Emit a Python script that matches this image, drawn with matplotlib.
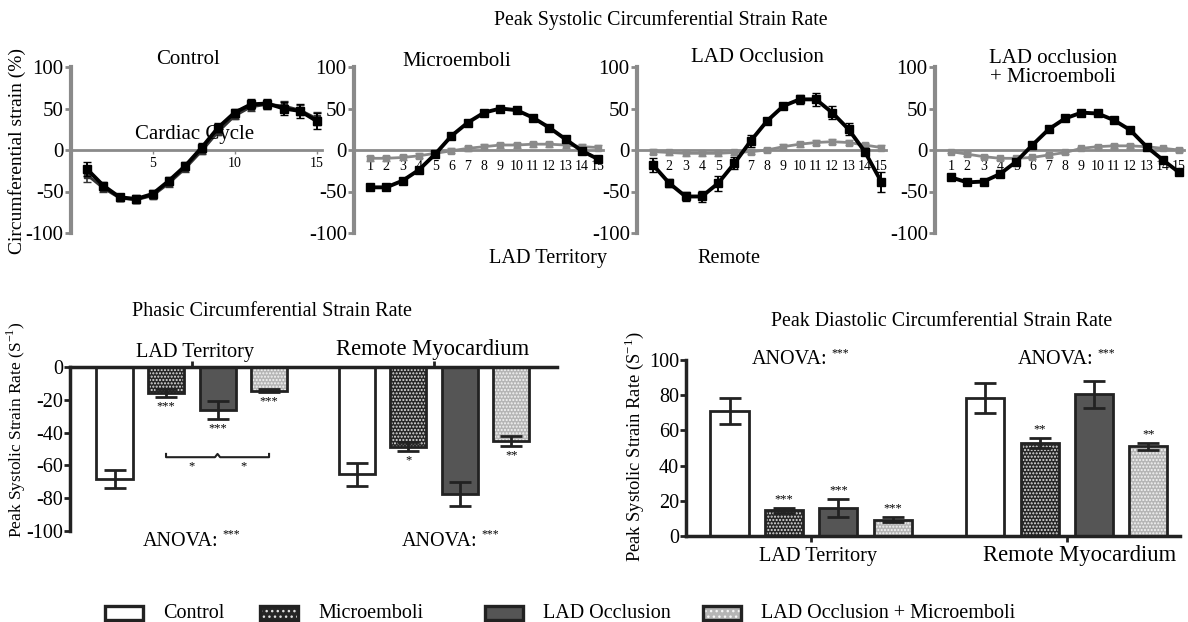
import numpy as np
import matplotlib.pyplot as plt
from matplotlib.patches import Rectangle
from matplotlib.text import Annotation

plt.rcParams['font.family'] = ['Liberation Serif', 'DejaVu Serif']
plt.rcParams['axes.unicode_minus'] = False
plt.rcParams['hatch.linewidth'] = 1.0

W, H = 1188, 622

# =========================================================
# Data: top row, circumferential strain over the cardiac cycle
# =========================================================
cycle = np.arange(1, 16)

control_lad = [-23, -43, -57, -59, -53, -37, -19, 3, 27, 45, 55, 56, 50, 47, 35]
control_lad_err = [8, 5, 4, 5, 5, 5, 5, 5, 5, 5, 6, 6, 8, 8, 10]
control_remote = [-30, -46, -58, -60, -55, -40, -22, -1, 22, 41, 52, 55, 53, 48, 38]
control_remote_err = [8, 5, 4, 4, 4, 4, 4, 4, 4, 4, 5, 5, 6, 6, 8]

micro_lad = [-45, -45, -37, -24, -5, 17, 33, 45, 50, 48, 39, 27, 13, -1, -11]
micro_lad_err = [2, 2, 2, 2, 2, 2, 2, 2, 2, 2, 2, 2, 2, 2, 2]
micro_remote = [-10, -10, -9, -7, -4, -1, 2, 4, 6, 6, 7, 7, 6, 4, 3]
micro_remote_err = [3, 3, 3, 3, 3, 3, 3, 3, 3, 3, 3, 3, 3, 3, 3]

occl_lad = [-18, -40, -56, -56, -40, -16, 11, 35, 53, 61, 61, 45, 25, -2, -38]
occl_lad_err = [8, 5, 5, 7, 9, 7, 7, 4, 3, 5, 8, 8, 7, 4, 12]
occl_remote = [-2, -3, -4, -4, -4, -3, -2, 0, 4, 7, 9, 10, 9, 6, 3]
occl_remote_err = [3, 3, 3, 3, 3, 3, 3, 3, 3, 3, 3, 3, 3, 3, 3]

combo_lad = [-33, -39, -38, -29, -14, 6, 25, 38, 45, 44, 36, 24, 4, -12, -27]
combo_lad_err = [2, 2, 2, 2, 2, 2, 2, 2, 2, 2, 2, 2, 2, 2, 3]
combo_remote = [-2, -5, -8, -10, -10, -9, -6, -3, 2, 4, 5, 5, 4, 2, 0]
combo_remote_err = [2, 2, 2, 2, 2, 2, 2, 2, 2, 2, 2, 2, 2, 2, 2]

panel_titles = ["Control", "Microemboli", "LAD Occlusion", "LAD occlusion\n+ Microemboli"]

# =========================================================
# Data: bottom row, bar charts
# =========================================================
groups = ["Control", "Microemboli", "LAD Occlusion", "LAD Occlusion + Microemboli"]

phasic_lad = [-68, -16, -26, -14.5]
phasic_lad_err = [5.5, 2.5, 5.5, 1.0]
phasic_lad_sig = ["", "***", "***", "***"]
phasic_remote = [-65.5, -48.5, -77.5, -45]
phasic_remote_err = [7, 2.7, 7.5, 3]
phasic_remote_sig = ["", "*", "", "**"]

diast_lad = [71, 14.5, 16, 9.2]
diast_lad_err = [7.3, 1.5, 5.3, 1.5]
diast_lad_sig = ["", "***", "***", "***"]
diast_remote = [78.5, 53, 80.5, 51]
diast_remote_err = [8.5, 2.8, 7.5, 2]
diast_remote_sig = ["", "**", "", "**"]

bar_pos_lad = np.array([1, 2, 3, 4])
bar_pos_remote = np.array([5.7, 6.7, 7.7, 8.7])

# bar styles: facecolor, hatch, hatch colour
bar_styles = [
    ("white", None, None),
    ("#262626", ".....", "#e0e0e0"),
    ("#555555", None, None),
    ("#b5b5b5", ".....", "#f4f4f4"),
]


def px_axes(x0, y_top, x1, y_bot):
    return fig.add_axes([x0 / W, 1 - y_bot / H, (x1 - x0) / W, (y_bot - y_top) / H])


def anova(x_left, y):
    t = fig.text(x_left / W, 1 - y / H, "ANOVA:", ha="left", va="center", fontsize=14.5)
    fig.add_artist(Annotation("***", xy=(1, 0.85), xycoords=t, xytext=(3, 0),
                              textcoords="offset points", ha="left", va="center",
                              fontsize=8.5))


fig = plt.figure(figsize=(W / 100, H / 100), dpi=100)

# =========================================================
# Top row
# =========================================================
top_boxes = [(70.6, 321.5), (353.7, 603), (636.7, 886), (934.7, 1184)]
top_data = [
    (control_lad, control_lad_err, control_remote, control_remote_err),
    (micro_lad, micro_lad_err, micro_remote, micro_remote_err),
    (occl_lad, occl_lad_err, occl_remote, occl_remote_err),
    (combo_lad, combo_lad_err, combo_remote, combo_remote_err),
]

for i, ((x0, x1), (lad, lad_e, rem, rem_e)) in enumerate(zip(top_boxes, top_data)):
    ax = px_axes(x0, 67, x1, 233)
    rem_color = "#333333" if i == 0 else "#8a8a8a"
    ax.errorbar(cycle, rem, yerr=rem_e, color=rem_color, lw=2.0, marker="s", ms=4,
                capsize=3, elinewidth=1.2, zorder=2)
    ax.errorbar(cycle, lad, yerr=lad_e, color="black", lw=2.8, marker="s", ms=5.5,
                capsize=3, elinewidth=1.4, zorder=3)
    ax.set_xlim(0, 15.3)
    ax.set_ylim(-100, 100)
    for s in ["top", "right"]:
        ax.spines[s].set_visible(False)
    ax.spines["left"].set_color("#8a8a8a")
    ax.spines["left"].set_linewidth(3)
    ax.spines["bottom"].set_position(("data", 0))
    ax.spines["bottom"].set_color("#8a8a8a")
    ax.spines["bottom"].set_linewidth(2)
    ax.set_yticks([-100, -50, 0, 50, 100])
    ax.tick_params(axis="y", direction="out", length=4, width=2, color="#8a8a8a",
                   labelsize=15, pad=1)
    if i == 0:
        ax.set_xticks([5, 10, 15])
        ax.tick_params(axis="x", length=3, width=1, color="#8a8a8a", labelsize=10, pad=2)
    else:
        ax.set_xticks(cycle)
        ax.tick_params(axis="x", length=0, labelsize=10, pad=7)
    ax.patch.set_alpha(0)

fig.text(661 / W, 1 - 20 / H, "Peak Systolic Circumferential Strain Rate", ha="center",
         va="center", fontsize=14.3)
fig.text(188 / W, 1 - 60 / H, panel_titles[0], ha="center", va="center", fontsize=15)
fig.text(457 / W, 1 - 61 / H, panel_titles[1], ha="center", va="center", fontsize=15)
fig.text(757 / W, 1 - 58 / H, panel_titles[2], ha="center", va="center", fontsize=15)
fig.text(1053 / W, 1 - 68 / H, panel_titles[3], ha="center", va="center", fontsize=15,
         linespacing=1.05)
fig.text(195 / W, 1 - 135 / H, "Cardiac Cycle", ha="center", va="center", fontsize=15)
fig.text(548 / W, 1 - 258 / H, "LAD Territory", ha="center", va="center", fontsize=14.6)
fig.text(729 / W, 1 - 258 / H, "Remote", ha="center", va="center", fontsize=14.6)
fig.text(17 / W, 1 - 151 / H, "Circumferential strain (%)", ha="center", va="center",
         rotation=90, fontsize=14)


def draw_bars(ax, pos, vals, errs):
    for p, v, e, (fc, hatch, hc) in zip(pos, vals, errs, bar_styles):
        if hatch:
            ax.bar(p, v, width=0.7, color=fc, edgecolor=hc, hatch=hatch, lw=0, zorder=2)
        else:
            ax.bar(p, v, width=0.7, color=fc, lw=0, zorder=2)
        ax.bar(p, v, width=0.7, fill=False, edgecolor="#222222", lw=2, zorder=3)
        ax.errorbar(p, v, yerr=e, color="#222222", lw=0, elinewidth=2, capsize=8,
                    capthick=2, zorder=4)


# =========================================================
# Bottom left: phasic
# =========================================================
ax = px_axes(70, 367, 557, 531)
draw_bars(ax, bar_pos_lad, phasic_lad, phasic_lad_err)
draw_bars(ax, bar_pos_remote, phasic_remote, phasic_remote_err)
ax.set_xlim(0.136, 9.59)
ax.set_ylim(-100, 0)
for s in ["bottom", "right"]:
    ax.spines[s].set_visible(False)
ax.spines["left"].set_linewidth(2.5)
ax.spines["top"].set_linewidth(2.5)
ax.spines["left"].set_color("#222222")
ax.spines["top"].set_color("#222222")
ax.xaxis.set_ticks_position("top")
ax.set_xticks([2.5, 7.2])
ax.set_xticklabels([])
ax.tick_params(axis="x", direction="out", length=4, width=2, color="#222222")
ax.set_yticks([-100, -80, -60, -40, -20, 0])
ax.tick_params(axis="y", direction="out", length=4, width=2, color="#222222",
               labelsize=14.5, pad=1)
for pos, vals, errs, sig in [(bar_pos_lad, phasic_lad, phasic_lad_err, phasic_lad_sig),
                             (bar_pos_remote, phasic_remote, phasic_remote_err, phasic_remote_sig)]:
    for p, v, e, s in zip(pos, vals, errs, sig):
        if s:
            ax.text(p, v - e - 2, s, ha="center", va="top", fontsize=9)
# bracket between microemboli / occlusion / combination
ax.plot([2, 2, 2.95, 3, 3.05, 4, 4], [-53, -55, -55, -53, -55, -55, -53], color="#222222",
        lw=1.5, zorder=5)
ax.text(2.5, -57, "*", ha="center", va="top", fontsize=9)
ax.text(3.5, -57, "*", ha="center", va="top", fontsize=9)
ax.patch.set_alpha(0)

fig.text(272 / W, 1 - 312 / H, "Phasic Circumferential Strain Rate", ha="center",
         va="center", fontsize=14.5)
fig.text(195 / W, 1 - 352 / H, "LAD Territory", ha="center", va="center", fontsize=14.6)
fig.text(433 / W, 1 - 350 / H, "Remote Myocardium", ha="center", va="center", fontsize=16.3)
anova(143, 541)
anova(402, 541)
fig.text(16 / W, 1 - 430 / H, "Peak Systolic Strain Rate (S$^{\\mathregular{-1}}$)",
         ha="center", va="center", rotation=90, fontsize=12.5)

# =========================================================
# Bottom right: diastolic
# =========================================================
ax = px_axes(686, 360, 1180, 536)
draw_bars(ax, bar_pos_lad, diast_lad, diast_lad_err)
draw_bars(ax, bar_pos_remote, diast_remote, diast_remote_err)
ax.set_xlim(0.2, 9.28)
ax.set_ylim(0, 100)
for s in ["top", "right"]:
    ax.spines[s].set_visible(False)
ax.spines["left"].set_linewidth(2.5)
ax.spines["bottom"].set_linewidth(2.5)
ax.spines["left"].set_color("#222222")
ax.spines["bottom"].set_color("#222222")
ax.set_xticks([2.5, 7.2])
ax.set_xticklabels([])
ax.tick_params(axis="x", direction="out", length=4, width=2, color="#222222")
ax.set_yticks([0, 20, 40, 60, 80, 100])
ax.tick_params(axis="y", direction="out", length=4, width=2, color="#222222",
               labelsize=14.5, pad=1)
for pos, vals, errs, sig in [(bar_pos_lad, diast_lad, diast_lad_err, diast_lad_sig),
                             (bar_pos_remote, diast_remote, diast_remote_err, diast_remote_sig)]:
    for p, v, e, s in zip(pos, vals, errs, sig):
        if s:
            ax.text(p, v + e + 1.5, s, ha="center", va="bottom", fontsize=9)
ax.patch.set_alpha(0)

fig.text(942 / W, 1 - 322 / H, "Peak Diastolic Circumferential Strain Rate", ha="center",
         va="center", fontsize=14.3)
fig.text(818 / W, 1 - 556 / H, "LAD Territory", ha="center", va="center", fontsize=14.6)
fig.text(1080 / W, 1 - 555 / H, "Remote Myocardium", ha="center", va="center", fontsize=16.3)
anova(752, 360)
anova(1018, 360)
fig.text(634 / W, 1 - 447 / H, "Peak Systolic Strain Rate (S$^{\\mathregular{-1}}$)",
         ha="center", va="center", rotation=90, fontsize=13.3)

# =========================================================
# Legend
# =========================================================
lax = fig.add_axes([0, 0, 1, 1])
lax.set_xlim(0, W)
lax.set_ylim(H, 0)
lax.axis("off")
leg_x = [105, 260, 485, 703]
for x, name, (fc, hatch, hc) in zip(leg_x, groups, bar_styles):
    if hatch:
        lax.add_patch(Rectangle((x, 606), 38, 14, facecolor=fc, edgecolor=hc, hatch="...",
                                lw=0))
    else:
        lax.add_patch(Rectangle((x, 606), 38, 14, facecolor=fc, lw=0))
    lax.add_patch(Rectangle((x, 606), 38, 14, fill=False, edgecolor="#222222", lw=2.4))
    lax.text(x + 58, 613, name, ha="left", va="center", fontsize=14.5)

fig.savefig("out.png", dpi=100)
